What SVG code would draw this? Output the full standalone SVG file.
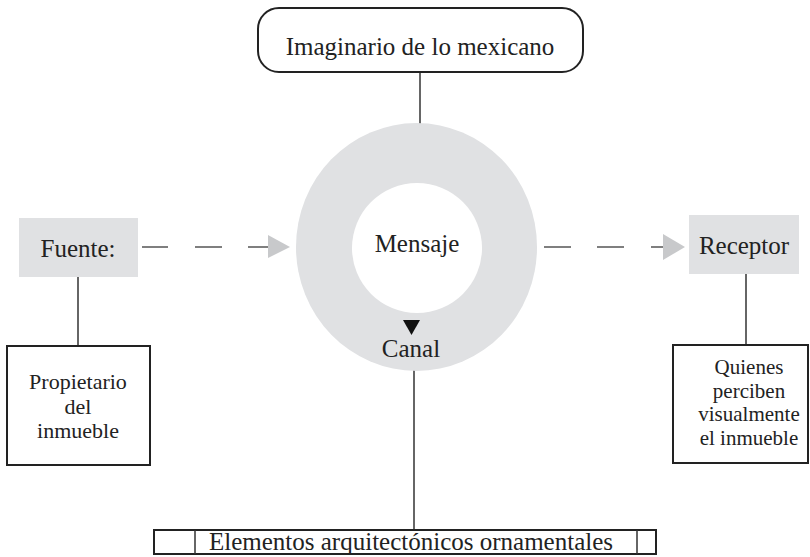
<svg xmlns="http://www.w3.org/2000/svg" width="810" height="557" viewBox="0 0 810 557">
<style>
text{font-family:"Liberation Serif","Times New Roman",serif;font-size:25px;fill:#222;text-anchor:middle}
.sm{font-size:21px}
.md{font-size:22px}
.box{fill:#fff;stroke:#222;stroke-width:2}
.grey{fill:#e0e1e3;stroke:none}
.conn{stroke:#333;stroke-width:1.5;fill:none}
.dash{stroke:#555;stroke-width:1.5;fill:none}
.head{fill:#c8c9cb}
</style>
<rect width="810" height="557" fill="#fff"/>
<g id="connectors">
<line class="conn" x1="420" y1="72" x2="420" y2="124"/>
<line class="conn" x1="78" y1="277" x2="78" y2="346"/>
<line class="conn" x1="746" y1="274" x2="746" y2="345"/>
<line class="conn" x1="414" y1="370" x2="414" y2="530"/>
<path class="dash" d="M142 247H168M195 247H222M248 247H269"/>
<polygon class="head" points="268,235 290,247 268,258"/>
<path class="dash" d="M544 247H571M597 247H624M651 247H664"/>
<polygon class="head" points="663,234 685,247 663,260"/>
</g>
<g id="imaginario">
<rect class="box" x="258" y="8" width="325" height="64" rx="21" stroke-width="2.5"/>
<text x="420" y="55">Imaginario de lo mexicano</text>
</g>
<g id="canal">
<ellipse class="grey" cx="416.5" cy="247" rx="120.5" ry="124"/>
<polygon points="403,320 420,320 411.5,335" fill="#111"/>
<text x="411" y="357">Canal</text>
</g>
<g id="mensaje">
<circle cx="417" cy="248" r="65" fill="#fff"/>
<text x="417" y="252">Mensaje</text>
</g>
<g id="fuente">
<rect class="grey" x="19" y="218" width="119" height="59"/>
<text x="78" y="257">Fuente:</text>
</g>
<g id="receptor">
<rect class="grey" x="689" y="215" width="110" height="59"/>
<text x="744" y="254">Receptor</text>
</g>
<g id="propietario">
<rect class="box" x="7" y="346" width="143" height="119"/>
<text class="md" x="78" y="389">Propietario</text>
<text class="md" x="78" y="413.5">del</text>
<text class="md" x="78" y="438">inmueble</text>
</g>
<g id="quienes">
<rect class="box" x="673" y="345" width="135" height="118"/>
<text class="sm" x="749" y="374">Quienes</text>
<text class="sm" x="749" y="397.5">perciben</text>
<text class="sm" x="749" y="421">visualmente</text>
<text class="sm" x="749" y="444.5">el inmueble</text>
</g>
<g id="elementos">
<rect class="box" x="154" y="530" width="502" height="24"/>
<line class="conn" x1="195" y1="530" x2="195" y2="554" stroke-width="2"/>
<line class="conn" x1="637" y1="530" x2="637" y2="554" stroke-width="2"/>
<text x="411" y="550">Elementos arquitectónicos ornamentales</text>
</g>
</svg>
